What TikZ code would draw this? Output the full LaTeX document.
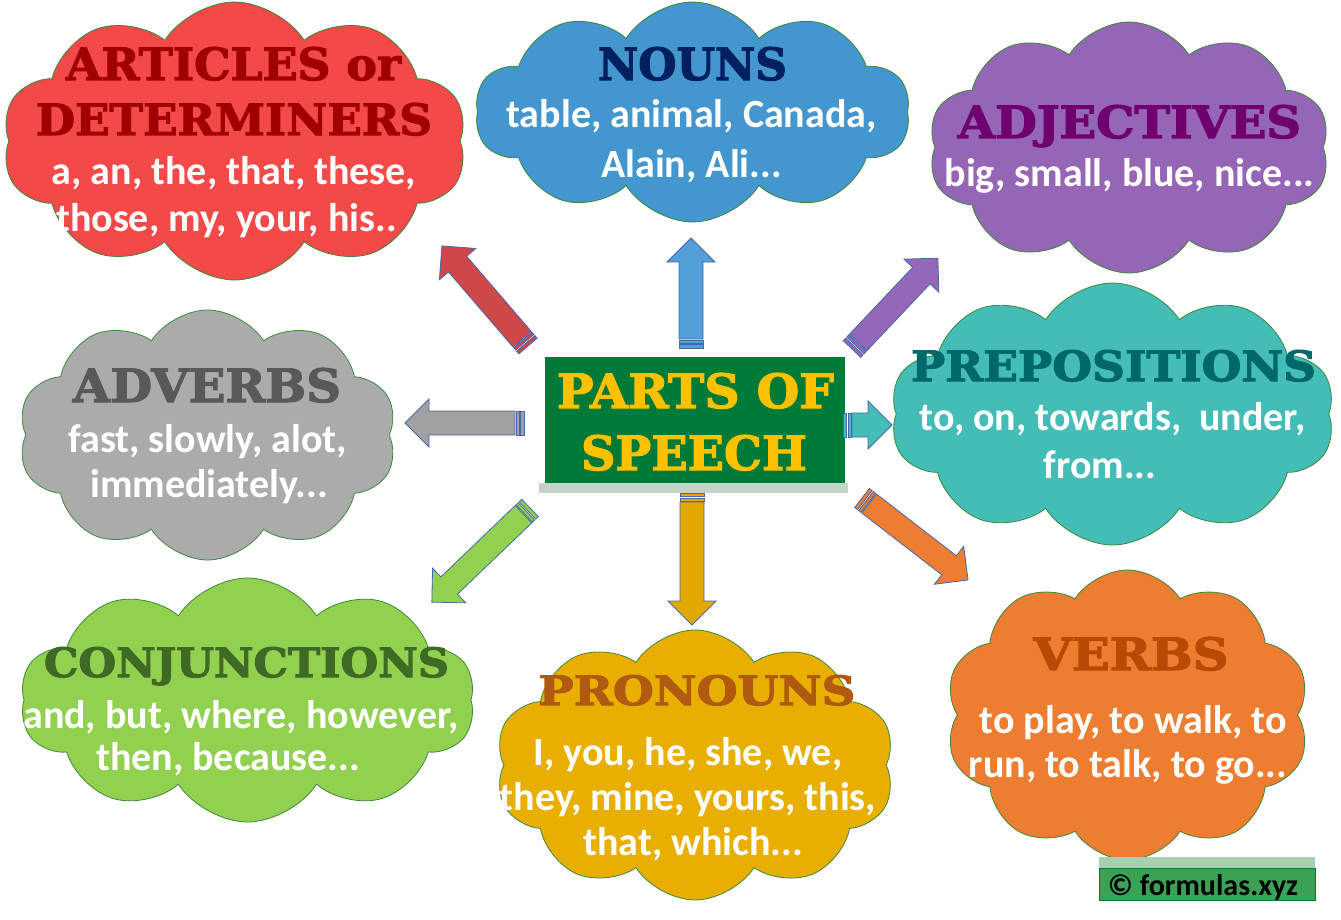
\documentclass[tikz,border=0pt]{standalone}
\usepackage{fontspec}
\usetikzlibrary{shapes.symbols}
\newfontfamily\ttlfont{DejaVu Serif Bold}[FakeBold=2.5]
\newfontfamily\bodyfont{Carlito}[UprightFont={* Bold}]
\definecolor{cred}{HTML}{F34949}
\definecolor{cblue}{HTML}{4496CE}
\definecolor{cpurple}{HTML}{9566B6}
\definecolor{cteal}{HTML}{43BDB6}
\definecolor{cgrey}{HTML}{ABABAB}
\definecolor{cgreen}{HTML}{92D050}
\definecolor{cgold}{HTML}{E9AF00}
\definecolor{corange}{HTML}{ED7D31}
\definecolor{tred}{HTML}{A00000}
\definecolor{tnavy}{HTML}{002060}
\definecolor{tpurple}{HTML}{700070}
\definecolor{tteal}{HTML}{00676A}
\definecolor{tgrey}{HTML}{595959}
\definecolor{tgreen}{HTML}{3F6A25}
\definecolor{tgold}{HTML}{B05A10}
\definecolor{torange}{HTML}{B84A05}
\definecolor{ared}{HTML}{D0474A}
\definecolor{ablue}{HTML}{559FD8}
\definecolor{apurple}{HTML}{9468B8}
\definecolor{agrey}{HTML}{A0A0A0}
\definecolor{agold}{HTML}{E3A800}
\definecolor{boxgreen}{HTML}{007A37}
\definecolor{ptyellow}{HTML}{FFC000}
\definecolor{edge}{HTML}{3A8A3A}
\definecolor{aedge}{HTML}{4468A8}
\definecolor{wmgreen}{HTML}{3AA255}
\definecolor{wmlight}{HTML}{A8D0B0}
\definecolor{striplight}{HTML}{C5D3CA}
\newcommand\blockarrow[5]{%
  \begin{scope}[shift={(#1,#2)},rotate=#3]
    \draw[arrowline,fill=#5] (9,-12) -- (#4-24,-12) -- (#4-24,-24) -- (#4,0) -- (#4-24,24) -- (#4-24,12) -- (9,12) -- cycle;
    \draw[arrowline,fill=#5] (0,-12) rectangle (3.5,12);
    \draw[arrowline,fill=#5] (5,-12) rectangle (8,12);
  \end{scope}}
\begin{document}
\begin{tikzpicture}[x=1pt,y=-1pt,
  cloudbase/.style={cloud, cloud puffs=10, cloud puff arc=115, cloud ignores aspect, draw=edge, line width=0.8pt, inner sep=0pt},
  arrowline/.style={draw=aedge, line width=0.8pt, line join=miter},
  ttl/.style={anchor=base, inner sep=0pt, text=#1, font=\ttlfont},
  body/.style={anchor=base, inner sep=0pt, text=white, font=\bodyfont\fontsize{40}{48}\selectfont}]
\useasboundingbox (0,0) rectangle (1341,920);
\fill[white] (0,0) rectangle (1341,920);
% clouds
\node[cloudbase, fill=cred, minimum width=465pt, minimum height=278pt] (cart) at (234.5,141) {};
\node[cloudbase, fill=cblue, minimum width=435pt, minimum height=220pt] (cnoun) at (692.5,112) {};
\node[cloudbase, fill=cpurple, minimum width=402pt, minimum height=251pt] (cadj) at (1129,147.5) {};
\node[cloudbase, fill=cteal, minimum width=445pt, minimum height=262pt] (cprep) at (1112.5,414) {};
\node[cloudbase, fill=cgrey, minimum width=379pt, minimum height=250pt] (cadv) at (207.5,435) {};
\node[cloudbase, fill=cgreen, minimum width=455pt, minimum height=244pt] (cconj) at (247.5,700) {};
\node[cloudbase, fill=cgold, minimum width=400pt, minimum height=270pt] (cpron) at (695,765) {};
\node[cloudbase, fill=corange, minimum width=365pt, minimum height=290pt] (cverb) at (1127.5,715) {};
% centre box
\fill[striplight] (539,483) rectangle (848,493);
\node[fill=boxgreen, minimum width=300pt, minimum height=126pt, inner sep=0pt] (pos) at (695,420) {};
% arrows
\blockarrow{528}{346}{130.7}{132}{ared}
\blockarrow{691}{348}{90}{110}{ablue}
\blockarrow{852}{349}{46.6}{125}{apurple}
\blockarrow{524}{423}{180}{119}{agrey}
\blockarrow{843}{425}{0}{49}{cteal}
\blockarrow{530}{508}{223.8}{136}{cgreen}
\blockarrow{692}{493}{-90}{132}{agold}
\blockarrow{862}{498}{-37.7}{134}{corange}
% titles
\node[ttl=tred] (t1a) at (233.5,80) {\resizebox{335pt}{33pt}{ARTICLES or}};
\node[ttl=tred] (t1b) at (234,135) {\resizebox{396pt}{32pt}{DETERMINERS}};
\node[ttl=tnavy] (t2) at (692.5,80) {\resizebox{189pt}{33pt}{NOUNS}};
\node[ttl=tpurple] (t3) at (1129.5,138) {\resizebox{343pt}{33pt}{ADJECTIVES}};
\node[ttl=tteal] (t4) at (1113.5,381) {\resizebox{405pt}{31pt}{PREPOSITIONS}};
\node[ttl=tgrey] (t5) at (207,402) {\resizebox{268pt}{34pt}{ADVERBS}};
\node[ttl=ptyellow] (t0a) at (695.5,408) {\resizebox{277pt}{35pt}{PARTS OF}};
\node[ttl=ptyellow] (t0b) at (694,470) {\resizebox{226pt}{35pt}{SPEECH}};
\node[ttl=tgreen] (t6) at (246.5,677) {\resizebox{405pt}{30pt}{CONJUNCTIONS}};
\node[ttl=tgold] (t7) at (697,705) {\resizebox{317pt}{30pt}{PRONOUNS}};
\node[ttl=torange] (t8) at (1131,670) {\resizebox{195pt}{33pt}{VERBS}};
% body texts
\node[body] (b1a) at (234,185) {a, an, the, that, these,};
\node[body] (b1b) at (226.5,232) {those, my, your, his..};
\node[body] (b2a) at (691.5,128) {table, animal, Canada,};
\node[body] (b2b) at (691.5,178) {Alain, Ali...};
\node[body] (b3) at (1129.5,187) {big, small, blue, nice...};
\node[body] (b4a) at (1112.5,430) {to, on, towards,\ \ under,};
\node[body] (b4b) at (1100,478) {from...};
\node[body] (b5a) at (207.5,452) {fast, slowly, alot,};
\node[body] (b5b) at (209,497) {immediately...};
\node[body] (b6a) at (241,728) {and, but, where, however,};
\node[body] (b6b) at (228,770) {then, because...};
\node[body] (b7a) at (688,765) {I, you, he, she, we,};
\node[body] (b7b) at (688,810) {they, mine, yours, this,};
\node[body] (b7c) at (693,855) {that, which...};
\node[body] (b8a) at (1133,733) {to play, to walk, to};
\node[body] (b8b) at (1128,777) {run, to talk, to go...};
% watermark
\fill[wmlight] (1099,857) rectangle (1315,868);
\node[fill=wmgreen, draw=boxgreen, line width=0.6pt, minimum width=216pt, minimum height=32pt, inner sep=0pt] (wm) at (1207,884) {};
\node[anchor=base, inner sep=0pt, font=\bodyfont\fontsize{30}{36}\selectfont, text=black] (wmt) at (1203,895) {© formulas.xyz};
\end{tikzpicture}
\end{document}
